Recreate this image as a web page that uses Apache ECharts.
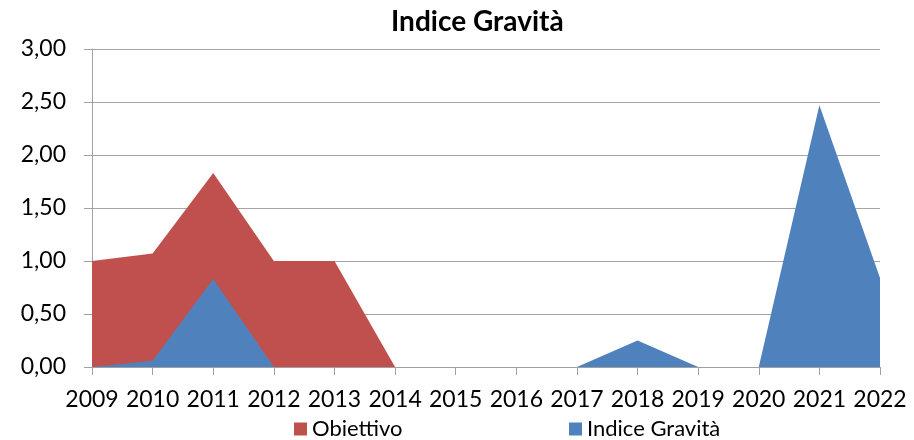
<!DOCTYPE html>
<html>
<head>
<meta charset="utf-8">
<script src="https://cdn.jsdelivr.net/npm/echarts@6/dist/echarts.min.js"></script>
<style>html,body{margin:0;padding:0;background:#fff}#c{width:914px;height:440px}</style>
</head>
<body>
<div id="c"></div>
<script>
var categories = ['2009','2010','2011','2012','2013','2014','2015','2016','2017','2018','2019','2020','2021','2022'];
var obiettivo = [1.00, 1.07, 1.83, 1.00, 1.00, 0, 0, 0, 0, 0, 0, 0, 0, 0];
var indiceGravita = [0, 0.06, 0.83, 0, 0, 0, 0, 0, 0, 0.25, 0, 0, 2.47, 0.84];
var seriesNames = ['Obiettivo', 'Indice Gravità'];
var titleText = 'Indice Gravità';

var FONT = 'Lato, "Liberation Sans", sans-serif';
var chart = echarts.init(document.getElementById('c'), null, {renderer: 'canvas'});
chart.setOption({
  animation: false,
  backgroundColor: '#fff',
  title: {
    text: titleText, left: 386, top: 3,
    textStyle: {fontFamily: FONT, fontSize: 28, fontWeight: 'bold', color: '#000'}
  },
  legend: [
    {data: [seriesNames[0]], left: 289, top: 413, icon: 'rect', itemWidth: 13, itemHeight: 13, itemGap: 6,
     textStyle: {fontFamily: FONT, fontSize: 22, color: '#000'}},
    {data: [seriesNames[1]], left: 564, top: 413, icon: 'rect', itemWidth: 13, itemHeight: 13, itemGap: 6,
     textStyle: {fontFamily: FONT, fontSize: 22, color: '#000'}}
  ],
  grid: {left: 92, right: 34, top: 49, bottom: 73, containLabel: false},
  xAxis: {
    type: 'category', data: categories, boundaryGap: false,
    axisLine: {show: true, lineStyle: {color: '#a0a0a0', width: 1}},
    axisTick: {show: true, length: 8, alignWithLabel: true, lineStyle: {color: '#a0a0a0'}},
    axisLabel: {fontFamily: FONT, fontSize: 23, color: '#000', margin: 21, interval: 0},
    splitLine: {show: false}
  },
  yAxis: {
    type: 'value', min: 0, max: 3, interval: 0.5,
    axisLine: {show: true, lineStyle: {color: '#a0a0a0', width: 1}},
    axisTick: {show: true, length: 8, lineStyle: {color: '#a0a0a0'}},
    axisLabel: {fontFamily: FONT, fontSize: 23, color: '#000', margin: 26,
      formatter: function (v) { return v.toFixed(2).replace('.', ','); }},
    splitLine: {show: true, lineStyle: {color: '#a6a6a6', width: 1}}
  },
  series: [
    {name: seriesNames[0], type: 'line', data: obiettivo, symbol: 'none', smooth: false,
     lineStyle: {width: 0}, itemStyle: {color: '#C0504D'}, areaStyle: {color: '#C0504D', opacity: 1}},
    {name: seriesNames[1], type: 'line', data: indiceGravita, symbol: 'none', smooth: false,
     lineStyle: {width: 0}, itemStyle: {color: '#4F81BD'}, areaStyle: {color: '#4F81BD', opacity: 1}}
  ]
});
</script>
</body>
</html>
